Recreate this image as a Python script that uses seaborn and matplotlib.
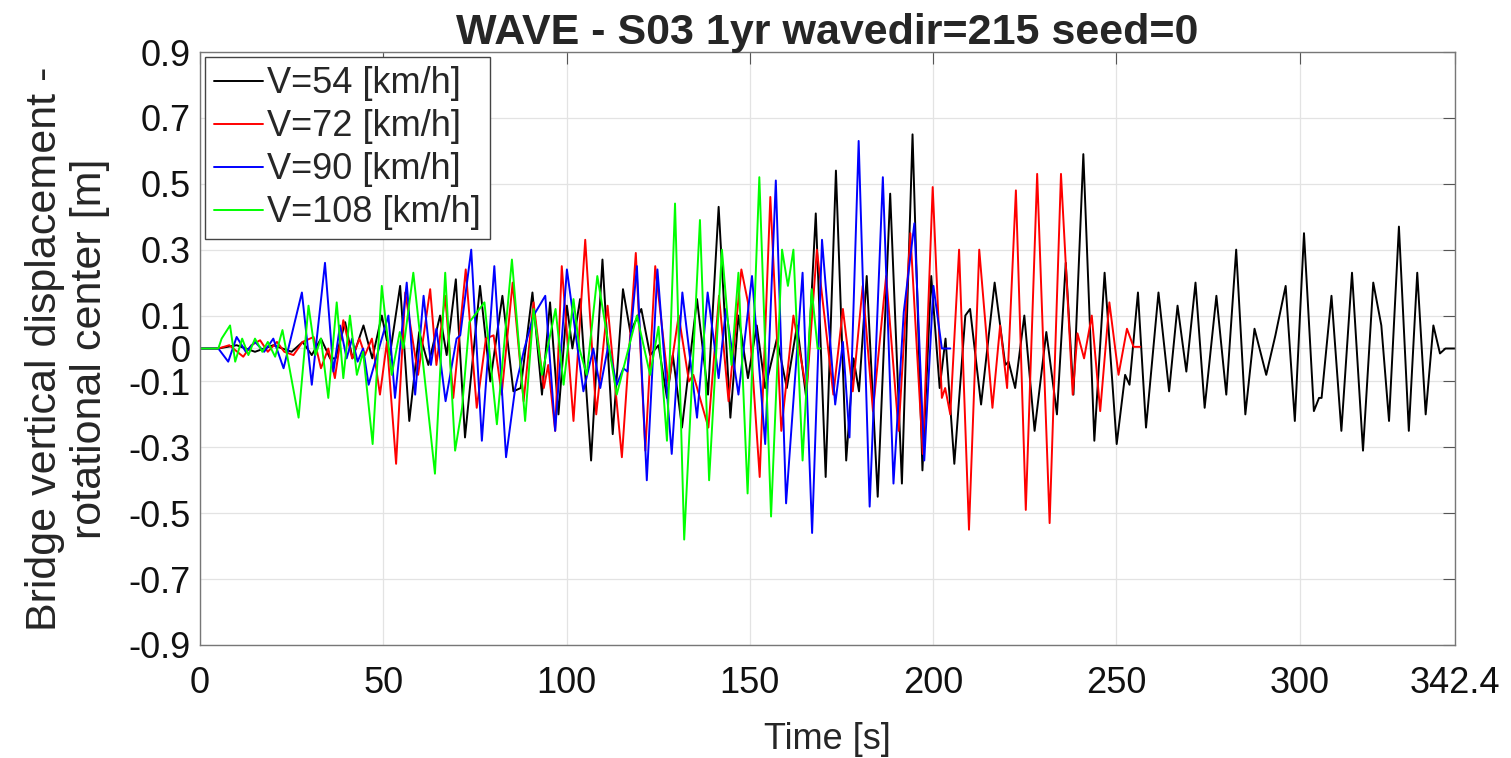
import matplotlib
matplotlib.use("Agg")
import matplotlib.pyplot as plt
import numpy as np
import pandas as pd
import seaborn as sns

# ---------------- data ----------------
series_labels = ["V=54 [km/h]", "V=72 [km/h]", "V=90 [km/h]", "V=108 [km/h]"]
series_colors = ["#000000", "#ff0000", "#0000ff", "#00ff00"]

t_v54 = [0, 5, 10, 15, 20, 25, 28, 30.5, 33, 35.5, 37.0, 39.6, 41.6, 44.6, 47.0, 49.6, 51.8, 54.6,
         57.1, 59.8, 62.3, 65.5, 67.3, 69.8, 72.3, 76.4, 79.2, 82.5, 85.5, 87.5, 90.7, 93.3, 95.5,
         97.8, 100.1, 101.6, 103.7, 106.7, 109.8, 112.6, 115.4, 117.4, 120.4, 122.8, 125.1, 127.4,
         129.0, 131.5, 135.6, 138.6, 141.5, 144.7, 146.9, 149.5, 151.9, 154.2, 157.4, 160.1, 162.9,
         165.4, 168.0, 170.7, 173.5, 176.3, 178.3, 179.8, 181.9, 184.9, 188.3, 191.5, 194.4, 197.1,
         199.5, 201.8, 203.4, 205.8, 208.8, 210.1, 213.1, 216.8, 219.7, 220.6, 222.4, 224.9, 227.7,
         230.9, 233.8, 236.2, 238.3, 241.0, 244.0, 246.8, 250.1, 252.4, 253.6, 255.9, 258.1, 261.5,
         264.4, 266.7, 269.1, 271.6, 274.1, 277.3, 280.0, 282.7, 285.2, 287.7, 290.9, 293.4, 296.2,
         298.7, 301.2, 303.9, 305.3, 306.0, 308.7, 311.4, 314.3, 317.3, 320.1, 322.3, 324.4, 327.1,
         329.8, 332.1, 334.4, 336.5, 338.3, 339.8, 342.4]
y_v54 = [0, 0, 0.01, -0.01, 0.01, -0.01, 0.02, -0.02, 0.03, -0.03, -0.03, 0.08, -0.03, 0.07, -0.03,
         0.10, -0.02, 0.19, -0.22, 0.05, -0.05, 0.10, -0.02, 0.21, -0.27, 0.19, -0.10, 0.16, -0.13,
         -0.12, 0.17, -0.14, 0.14, -0.20, 0.13, 0.00, 0.15, -0.34, 0.27, -0.26, 0.18, 0.05, 0.12,
         -0.02, 0.01, -0.15, -0.02, -0.24, 0.15, -0.14, 0.43, -0.21, 0.10, -0.09, 0.07, -0.12, 0.03,
         -0.12, 0.07, -0.15, 0.41, -0.39, 0.54, -0.34, -0.03, -0.13, 0.22, -0.45, 0.47, -0.41, 0.65,
         -0.37, 0.22, -0.12, 0.03, -0.35, 0.10, 0.12, -0.17, 0.20, -0.05, -0.04, -0.12, 0.10, -0.25,
         0.05, -0.20, 0.26, -0.14, 0.59, -0.28, 0.23, -0.29, -0.08, -0.11, 0.17, -0.24, 0.17, -0.13,
         0.13, -0.07, 0.20, -0.18, 0.16, -0.14, 0.30, -0.20, 0.06, -0.08, 0.04, 0.19, -0.22, 0.35,
         -0.19, -0.15, -0.15, 0.16, -0.25, 0.23, -0.31, 0.20, 0.07, -0.22, 0.37, -0.25, 0.23, -0.20,
         0.07, -0.015, 0.0, 0.0]

t_v72 = [0, 5, 8, 11.8, 14, 16.4, 18.5, 21, 23, 25.5, 28, 31, 33, 35, 36.8, 39.1, 41.5, 43.5, 45,
         46.9, 49.1, 51.0, 53.5, 56.0, 59.5, 62.8, 64.5, 66.9, 69.1, 72.5, 75.5, 78.0, 80.1, 82.3,
         85.3, 88.3, 91.0, 93.8, 95.0, 96.9, 98.7, 101.9, 105.1, 108.1, 111.2, 115.1, 118.9, 121.5,
         124.2, 127.8, 130.6, 133.4, 134.6, 138.7, 141.6, 144.2, 147.7, 149.5, 152.7, 155.6, 158.6,
         161.9, 165.5, 168.3, 172.8, 175.4, 178.1, 180.8, 183.6, 187.2, 190.6, 193.8, 197.2, 199.9,
         202.4, 203.3, 204.7, 207.1, 209.8, 212.6, 216.2, 218.3, 220.2, 222.6, 225.3, 228.4, 231.8,
         234.9, 238.1, 239.4, 241.2, 243.3, 245.6, 248.1, 250.6, 252.9, 254.7, 256.5]
y_v72 = [0, 0, 0.01, -0.025, 0.01, 0.025, -0.01, 0.02, -0.01, -0.02, 0.02, 0.035, -0.06, 0.0,
         -0.09, 0.086, -0.03, 0.03, -0.02, 0.03, -0.14, 0.02, -0.35, 0.17, -0.08, 0.18, -0.05, 0.16,
         -0.15, 0.24, -0.18, 0.03, 0.04, -0.14, 0.20, -0.16, 0.14, -0.12, -0.05, -0.25, 0.25, -0.22,
         0.33, -0.20, 0.13, -0.33, 0.29, -0.31, 0.25, -0.11, 0.10, -0.10, -0.08, -0.24, 0.16, -0.16,
         0.24, 0.14, -0.39, 0.46, -0.25, 0.10, -0.13, 0.30, -0.14, 0.12, -0.13, 0.19, -0.19, 0.22,
         -0.25, 0.35, -0.32, 0.49, -0.15, -0.12, -0.20, 0.30, -0.55, 0.30, -0.18, 0.07, -0.12, 0.48,
         -0.49, 0.53, -0.53, 0.53, -0.14, 0.046, -0.03, 0.10, -0.19, 0.14, -0.08, 0.06, 0.005, 0.005]

t_v90 = [0, 5, 7.7, 10, 12.5, 15, 17.5, 20, 22.8, 27.8, 30.5, 34.1, 36.4, 38.2, 40.0, 41.5, 43.0,
         44.5, 46.0, 51.4, 53.2, 56.4, 58.7, 61.0, 63.0, 64.5, 67.0, 70.0, 71.0, 74.0, 76.9, 80.3,
         83.5, 86.0, 88.5, 91.0, 94.2, 96.9, 100.1, 104.6, 107.3, 109.2, 111.4, 113.7, 115.5, 116.6,
         119.2, 121.9, 124.8, 128.7, 131.6, 135.6, 138.5, 141.5, 143.5, 146.9, 150.6, 154.2, 157.1,
         159.9, 164.4, 167.0, 169.7, 173.3, 175.4, 177.2, 179.7, 182.7, 186.3, 189.2, 192.0, 194.9,
         197.6, 200.1, 202.4, 204.7]
y_v90 = [0, 0, -0.04, 0.035, -0.01, 0.02, -0.01, 0.03, -0.06, 0.17, -0.11, 0.26, -0.07, 0.07, -0.03,
         0.03, -0.04, 0.0, -0.11, 0.10, -0.15, 0.20, -0.14, 0.16, -0.05, 0.06, -0.16, 0.03, 0.04,
         0.30, -0.28, 0.25, -0.33, -0.12, 0.0, 0.10, 0.16, -0.25, 0.24, -0.13, 0.0, -0.12, 0.01,
         -0.11, -0.06, -0.07, 0.25, -0.40, 0.24, -0.32, 0.17, -0.21, 0.17, -0.09, 0.12, -0.14, 0.22,
         -0.29, 0.51, -0.47, 0.23, -0.56, 0.33, -0.17, 0.02, -0.27, 0.63, -0.48, 0.52, -0.41, 0.11,
         0.38, -0.34, 0.19, 0.0, 0.0]

t_v108 = [0, 5, 5.9, 8.2, 9.6, 11.5, 13.2, 15, 17, 18.5, 20.5, 22.5, 26.9, 29.6, 31.5, 33.0, 35.0,
          37.3, 39.1, 40.9, 42.8, 44.5, 47.1, 49.6, 52.3, 54.5, 55.5, 58.2, 64.1, 66.9, 69.6, 71.5,
          73.5, 77.6, 81.0, 85.1, 88.7, 91.0, 93.3, 97.0, 99.2, 101.9, 103.5, 105.5, 108.4, 113.7,
          119.2, 122.8, 125.1, 127.4, 129.6, 132.1, 136.4, 138.9, 142.4, 145.0, 146.9, 149.4, 152.6,
          155.8, 158.8, 160.4, 161.9, 164.4, 166.9, 168.5, 169.2]
y_v108 = [0, 0, 0.03, 0.07, -0.04, 0.03, -0.02, 0.03, -0.01, 0.02, -0.025, 0.056, -0.21, 0.13,
          -0.02, 0.03, -0.15, 0.14, -0.09, 0.10, -0.08, -0.01, -0.29, 0.19, -0.08, 0.05, 0.0, 0.23,
          -0.38, 0.23, -0.31, -0.18, 0.08, 0.14, -0.23, 0.27, -0.22, 0.12, -0.08, 0.12, -0.11, 0.15,
          0.0, -0.08, 0.22, -0.14, 0.10, -0.08, 0.066, -0.28, 0.44, -0.58, 0.39, -0.40, 0.30, -0.05,
          0.23, -0.44, 0.52, -0.51, 0.30, 0.19, 0.30, -0.34, 0.18, 0.0, 0.0]

x_ticks = [0, 50, 100, 150, 200, 250, 300, 342.4]
x_tick_labels = ["0", "50", "100", "150", "200", "250", "300", "342.4"]
y_ticks = [-0.9, -0.7, -0.5, -0.3, -0.1, 0, 0.1, 0.3, 0.5, 0.7, 0.9]
y_tick_labels = ["-0.9", "-0.7", "-0.5", "-0.3", "-0.1", "0", "0.1", "0.3", "0.5", "0.7", "0.9"]

title_text = "WAVE - S03 1yr wavedir=215 seed=0"
x_label = "Time [s]"
y_label = "Bridge vertical displacement -\nrotational center [m]"

# ---------------- build table ----------------
frames = []
for lab, tt, yy in zip(series_labels, [t_v54, t_v72, t_v90, t_v108], [y_v54, y_v72, y_v90, y_v108]):
    frames.append(pd.DataFrame({"Time": tt, "Disp": yy, "Series": lab}))
df = pd.concat(frames, ignore_index=True)

# ---------------- plot ----------------
sns.set_style("white")
plt.rcParams["font.family"] = ["Liberation Sans", "DejaVu Sans"]

W, H = 1511, 758
fig = plt.figure(figsize=(W / 100, H / 100), dpi=100)
ax_l, ax_r, ax_t, ax_b = 200, 1455, 52, 645
ax = fig.add_axes([ax_l / W, 1 - ax_b / H, (ax_r - ax_l) / W, (ax_b - ax_t) / H])

sns.lineplot(data=df, x="Time", y="Disp", hue="Series", hue_order=series_labels,
             palette=series_colors, estimator=None, sort=False, linewidth=1.4,
             legend=False, ax=ax)

ax.set_xlim(0, 342.4)
ax.set_ylim(-0.9, 0.9)
ax.set_xticks(x_ticks)
ax.set_xticklabels(x_tick_labels)
ax.set_yticks(y_ticks)
ax.set_yticklabels(y_tick_labels)
ax.grid(True, color="#e3e3e3", linewidth=0.9)
ax.set_axisbelow(True)
ax.tick_params(direction="in", length=8.5, width=0.8, top=True, right=True,
               color="#555555", labelcolor="#111111", labelsize=26)
ax.tick_params(axis="x", pad=15)
ax.tick_params(axis="y", pad=7)
for sp in ax.spines.values():
    sp.set_color("#777777")
    sp.set_linewidth(1.0)

ax.set_xlabel(x_label, fontsize=26, labelpad=15)
ax.set_ylabel(y_label, fontsize=31, labelpad=13, linespacing=1.15)
ax.set_title(title_text, fontsize=31, fontweight="bold", pad=6)

handles = ax.get_lines()[:4]
leg = ax.legend(handles, series_labels, loc="upper left", fontsize=26, frameon=True,
                fancybox=False, edgecolor="#444444", framealpha=1, handlelength=1.35,
                handletextpad=0.1, borderpad=0.25, labelspacing=0.22,
                borderaxespad=0.15)
leg.get_frame().set_linewidth(1.0)

fig.savefig("out.png", dpi=100)
